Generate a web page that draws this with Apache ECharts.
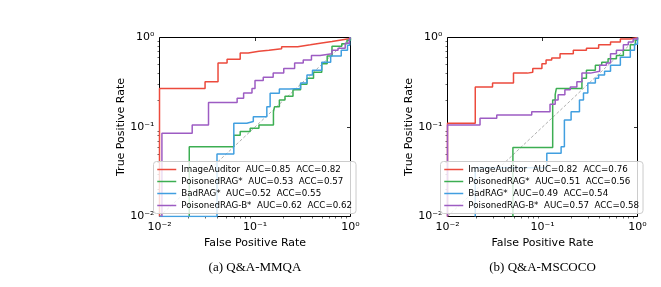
<!DOCTYPE html>
<html><head><meta charset="utf-8">
<script src="https://cdn.jsdelivr.net/npm/echarts@6/dist/echarts.min.js"></script>
<style>html,body{margin:0;padding:0;background:#fff}#c{width:661px;height:287px}</style>
</head><body><div id="c"></div><script>
// ---------- data ----------
const tickLabels = ['10\u207B\u00B2', '10\u207B\u00B9', '10\u2070'];
const minorTickValues = [2,3,4,5,6,7,8,9];
const methods = ['ImageAuditor', 'PoisonedRAG*', 'BadRAG*', 'PoisonedRAG-B*'];
const captions = ['(a) Q&A-MMQA', '(b) Q&A-MSCOCO'];
const mmqaAUC = ['0.85', '0.53', '0.52', '0.62'];
const mmqaACC = ['0.82', '0.57', '0.55', '0.62'];
const mscocoAUC = ['0.82', '0.51', '0.49', '0.57'];
const mscocoACC = ['0.76', '0.56', '0.54', '0.58'];
const chanceLine = [[0.01, 0.01], [1, 1]];

// ROC curve corners [FPR, TPR], panel (a)
const mmqaImageAuditor = [[0.01,0.01],[0.01,0.27],[0.03,0.32],[0.041,0.52],[0.051,0.57],[0.07,0.67],[0.085,0.70],[0.11,0.72],[0.14,0.75],[0.19,0.79],[0.28,0.83],[0.38,0.87],[0.5,0.9],[0.64,0.94],[0.8,0.97],[0.96,1.0],[1,1]];
const mmqaPoisonedRAG = [[0.0205,0.01],[0.0205,0.06],[0.06,0.081],[0.07,0.089],[0.089,0.097],[0.11,0.105],[0.156,0.148],[0.16,0.168],[0.18,0.2],[0.206,0.22],[0.25,0.26],[0.3,0.3],[0.35,0.35],[0.41,0.41],[0.5,0.51],[0.57,0.62],[0.64,0.8],[0.81,0.85],[0.92,0.93],[1,1]];
const mmqaBadRAG = [[0.01,0.01],[0.04,0.05],[0.06,0.11],[0.082,0.115],[0.096,0.13],[0.133,0.168],[0.144,0.238],[0.18,0.265],[0.23,0.27],[0.3,0.31],[0.35,0.38],[0.4,0.43],[0.5,0.53],[0.62,0.62],[0.8,0.72],[0.93,0.82],[0.98,0.96],[1,1]];
const mmqaPoisonedRAGB = [[0.0106,0.01],[0.0106,0.085],[0.022,0.105],[0.0326,0.188],[0.065,0.21],[0.076,0.24],[0.093,0.27],[0.10,0.33],[0.122,0.36],[0.155,0.40],[0.2,0.45],[0.26,0.52],[0.32,0.56],[0.39,0.63],[0.48,0.66],[0.64,0.72],[0.74,0.76],[0.88,0.86],[0.97,0.95],[1,1]];

// panel (b)
const mscocoImageAuditor = [[0.01,0.01],[0.01,0.11],[0.0196,0.28],[0.0298,0.31],[0.0495,0.40],[0.0695,0.41],[0.079,0.45],[0.0986,0.51],[0.109,0.56],[0.125,0.59],[0.153,0.66],[0.211,0.72],[0.29,0.76],[0.39,0.83],[0.52,0.89],[0.66,0.96],[0.84,1.0],[1,1]];
const mscocoPoisonedRAG = [[0.0488,0.01],[0.0488,0.059],[0.128,0.2],[0.136,0.23],[0.14,0.27],[0.26,0.35],[0.29,0.43],[0.36,0.49],[0.42,0.53],[0.49,0.58],[0.6,0.63],[0.71,0.72],[0.84,0.83],[0.95,0.93],[1,1]];
const mscocoBadRAG = [[0.0196,0.01],[0.0196,0.035],[0.111,0.051],[0.157,0.0603],[0.17,0.12],[0.2,0.148],[0.245,0.2],[0.27,0.24],[0.3,0.31],[0.36,0.35],[0.39,0.38],[0.45,0.42],[0.52,0.49],[0.66,0.6],[0.84,0.72],[0.93,0.84],[1,1]];
const mscocoPoisonedRAGB = [[0.01,0.01],[0.01,0.105],[0.022,0.125],[0.033,0.136],[0.077,0.148],[0.12,0.18],[0.136,0.2],[0.146,0.23],[0.172,0.26],[0.196,0.28],[0.23,0.32],[0.26,0.40],[0.32,0.42],[0.40,0.49],[0.47,0.52],[0.52,0.66],[0.6,0.72],[0.71,0.83],[0.8,0.89],[0.9,0.96],[1,1]];

// ---------- styling ----------
const colors = ['#ec4a3c', '#3cae52', '#419fe0', '#9d5cc3'];
const FONT = 'DejaVu Sans';
const panels = [
  {grid: {left: 159.5, top: 37.5, width: 191, height: 179}, auc: mmqaAUC, acc: mmqaACC,
   curves: [mmqaImageAuditor, mmqaPoisonedRAG, mmqaBadRAG, mmqaPoisonedRAGB], legend: {left: 153.5, top: 161.5}},
  {grid: {left: 447.5, top: 37.5, width: 190, height: 179}, auc: mscocoAUC, acc: mscocoACC,
   curves: [mscocoImageAuditor, mscocoPoisonedRAG, mscocoBadRAG, mscocoPoisonedRAGB], legend: {left: 440.5, top: 161.5}}
];
const minorLog = [];
for (let d = -2; d < 0; d++) minorTickValues.forEach(m => minorLog.push(d + Math.log10(m)));
const fmt = v => tickLabels[Math.round(Math.log10(v)) + 2];

const grid = [], xAxis = [], yAxis = [], series = [], legend = [], graphic = [];
panels.forEach((p, i) => {
  grid.push(Object.assign({show: true, borderColor: '#000', borderWidth: 1, containLabel: false}, p.grid));
  xAxis.push({type: 'log', logBase: 10, min: 0.01, max: 1, gridIndex: i,
    name: 'False Positive Rate', nameLocation: 'middle', nameGap: 19,
    nameTextStyle: {fontFamily: FONT, fontSize: 11, color: '#000'},
    axisLine: {show: false}, splitLine: {show: false}, minorTick: {show: false},
    axisTick: {show: true, length: 3.5, lineStyle: {color: '#000', width: 0.8}},
    axisLabel: {formatter: fmt, fontFamily: FONT, fontSize: 11, color: '#000', margin: 5}});
  yAxis.push({type: 'log', logBase: 10, min: 0.01, max: 1, gridIndex: i,
    name: 'True Positive Rate', nameLocation: 'middle', nameGap: 31, nameRotate: 90,
    nameTextStyle: {fontFamily: FONT, fontSize: 11, color: '#000'},
    axisLine: {show: false}, splitLine: {show: false}, minorTick: {show: false},
    axisTick: {show: true, length: 3.5, lineStyle: {color: '#000', width: 0.8}},
    axisLabel: {formatter: fmt, fontFamily: FONT, fontSize: 11, color: '#000', margin: 5}});
});
// minor-tick overlay axes (log10 space)
panels.forEach((p, i) => {
  xAxis.push({type: 'value', min: -2, max: 0, gridIndex: i, position: 'bottom',
    axisLine: {show: false}, splitLine: {show: false}, axisLabel: {show: false},
    axisTick: {show: true, length: 2, customValues: minorLog, lineStyle: {color: '#000', width: 0.6}}});
  yAxis.push({type: 'value', min: -2, max: 0, gridIndex: i, position: 'left',
    axisLine: {show: false}, splitLine: {show: false}, axisLabel: {show: false},
    axisTick: {show: true, length: 2, customValues: minorLog, lineStyle: {color: '#000', width: 0.6}}});
});
panels.forEach((p, i) => {
  series.push({type: 'line', xAxisIndex: i, yAxisIndex: i, data: chanceLine, symbol: 'none', silent: true,
    lineStyle: {color: '#9a9a9a', width: 0.8, type: [3, 2]}, z: 1});
  const names = [];
  methods.forEach((m, k) => {
    const name = m + '  AUC=' + p.auc[k] + '  ACC=' + p.acc[k];
    names.push(name);
    series.push({type: 'line', name: name, xAxisIndex: i, yAxisIndex: i, data: p.curves[k],
      step: 'end', symbol: 'none', showSymbol: false, color: colors[k],
      lineStyle: {color: colors[k], width: 1.5}, z: 2 + k});
  });
  legend.push({data: names, orient: 'vertical', left: p.legend.left, top: p.legend.top,
    padding: [3, 4, 3, 3], itemGap: 2, itemWidth: 19, itemHeight: 10,
    itemStyle: {opacity: 0, borderWidth: 0},
    lineStyle: {width: 1.5},
    backgroundColor: 'rgba(255,255,255,0.8)', borderColor: '#cccccc', borderWidth: 1, borderRadius: 3,
    selectedMode: false, z: 20,
    textStyle: {fontFamily: FONT, fontSize: 8.7, color: '#000', lineHeight: 10}});
  graphic.push({type: 'text', x: p.grid.left + p.grid.width / 2, y: 261,
    style: {text: captions[i], font: '13px "Liberation Serif"', fill: '#000', textAlign: 'center'}});
});

const chart = echarts.init(document.getElementById('c'), null, {renderer: 'canvas'});
chart.setOption({animation: false, backgroundColor: '#fff', grid, xAxis, yAxis, series, legend, graphic});
</script></body></html>
